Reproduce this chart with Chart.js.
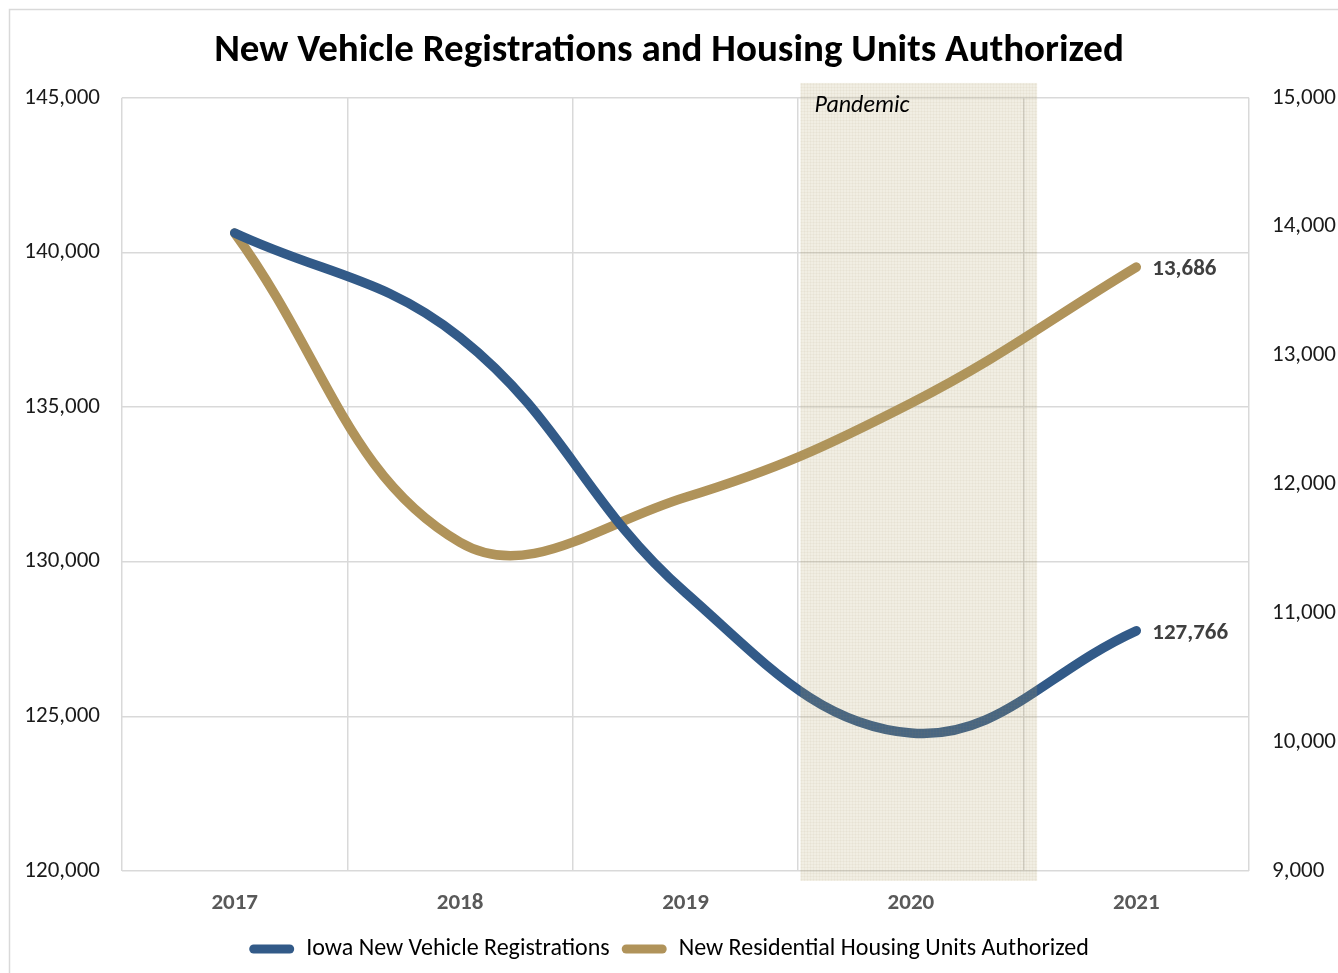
<!DOCTYPE html>
<html>
<head>
<meta charset="utf-8">
<script src="https://cdn.jsdelivr.net/npm/chart.js@4.4.1/dist/chart.umd.min.js"></script>
<style>
  body { margin: 0; background: #fff; }
  #wrap { width: 1338px; height: 973px; position: relative; }
</style>
</head>
<body>
<div id="wrap"><canvas id="lineChartID"></canvas></div>
<script>
'use strict';

const years = ['2017', '2018', '2019', '2020', '2021'];
const vehicleRegistrations = [140630, 137250, 129000, 124460, 127766];
const housingUnits = [13950, 11550, 11900, 12630, 13686];
const vehicleTicks = [120000, 125000, 130000, 135000, 140000, 145000];
const housingTicks = [9000, 10000, 11000, 12000, 13000, 14000, 15000];

const blue = '#325a88';
const gold = '#b0935a';
const fontFamily = 'Carlito, Calibri, Lato, sans-serif';

// shaded pandemic period, drawn over the lines with a faint dotted texture
function bandPattern(ctx) {
  const c = document.createElement('canvas');
  c.width = 3;
  c.height = 3;
  const p = c.getContext('2d');
  p.fillStyle = 'rgba(175,160,100,0.18)';
  p.fillRect(0, 0, 3, 3);
  p.fillStyle = 'rgba(150,140,95,0.06)';
  p.fillRect(0, 0, 3, 1);
  p.fillRect(0, 0, 1, 3);
  return ctx.createPattern(c, 'repeat');
}

const pandemicBand = {
  id: 'pandemicBand',
  afterDatasetsDraw(chart, args, opts) {
    const {ctx, scales} = chart;
    const x1 = scales.x.getPixelForValue(opts.from);
    const x2 = scales.x.getPixelForValue(opts.to);
    const y1 = scales.y.getPixelForValue(opts.top);
    const y2 = scales.y.getPixelForValue(opts.bottom);
    ctx.save();
    ctx.fillStyle = bandPattern(ctx);
    ctx.fillRect(x1, y1, x2 - x1, y2 - y1);
    ctx.fillStyle = '#000';
    ctx.font = 'italic 24px ' + fontFamily;
    ctx.textBaseline = 'middle';
    ctx.fillText(opts.text, x1 + 14, scales.y.getPixelForValue(144750));
    ctx.restore();
  }
};

// value labels next to the last point of each line
const endLabels = {
  id: 'endLabels',
  afterDatasetsDraw(chart) {
    const {ctx} = chart;
    ctx.save();
    ctx.font = 'bold 23px ' + fontFamily;
    ctx.fillStyle = '#404040';
    ctx.textBaseline = 'middle';
    chart.data.datasets.forEach((ds, i) => {
      const pts = chart.getDatasetMeta(i).data;
      const last = pts[pts.length - 1];
      const val = ds.data[ds.data.length - 1];
      ctx.fillText(val.toLocaleString('en-US'), last.x + 16, last.y + 2.5);
    });
    ctx.restore();
  }
};

const frame = {
  id: 'frame',
  beforeDraw(chart) {
    const {ctx} = chart;
    ctx.save();
    ctx.fillStyle = '#fff';
    ctx.fillRect(0, 0, chart.width, chart.height);
    ctx.strokeStyle = '#d9d9d9';
    ctx.lineWidth = 1.5;
    ctx.strokeRect(9.5, 9.5, chart.width + 20, chart.height + 20);
    ctx.restore();
  }
};

const data = {
  labels: years,
  datasets: [{
    label: 'Iowa New Vehicle Registrations',
    data: vehicleRegistrations,
    borderColor: blue,
    backgroundColor: blue,
    borderWidth: 9.5,
    borderCapStyle: 'round',
    pointRadius: 0,
    tension: 0.4,
    yAxisID: 'y'
  }, {
    label: 'New Residential Housing Units Authorized',
    data: housingUnits,
    borderColor: gold,
    backgroundColor: gold,
    borderWidth: 9.5,
    borderCapStyle: 'round',
    pointRadius: 0,
    tension: 0.4,
    yAxisID: 'y1'
  }]
};

const config = {
  type: 'line',
  data: data,
  plugins: [frame, pandemicBand, endLabels],
  options: {
    responsive: true,
    maintainAspectRatio: false,
    animation: false,
    layout: { padding: { left: 0, right: 0, top: 0, bottom: 2 } },
    plugins: {
      title: {
        display: true,
        text: 'New Vehicle Registrations and Housing Units Authorized',
        color: '#000',
        font: { family: fontFamily, size: 39, weight: 'bold' },
        padding: { top: 28, bottom: 23 }
      },
      legend: {
        position: 'bottom',
        labels: {
          color: '#000',
          font: { family: fontFamily, size: 24 },
          boxWidth: 45,
          boxHeight: 9,
          useBorderRadius: true,
          borderRadius: 4.5,
          padding: 12,
          generateLabels(chart) {
            const items = Chart.defaults.plugins.legend.labels.generateLabels(chart);
            items.forEach(it => { it.lineWidth = 0; });
            return items;
          }
        }
      },
      tooltip: { enabled: false },
      pandemicBand: { from: 2.51, to: 3.56, top: 145480, bottom: 119680, text: 'Pandemic' }
    },
    scales: {
      x: {
        offset: true,
        grid: { offset: true, color: '#d9d9d9', lineWidth: 1.5, drawTicks: false },
        border: { display: false },
        ticks: {
          color: '#595959',
          font: { family: fontFamily, size: 23, weight: 'bold' },
          padding: 18
        },
        afterFit(scale) { scale.height = 54; }
      },
      y: {
        position: 'left',
        min: vehicleTicks[0],
        max: vehicleTicks[vehicleTicks.length - 1],
        afterBuildTicks(scale) { scale.ticks = vehicleTicks.map(v => ({ value: v })); },
        grid: { color: '#d9d9d9', lineWidth: 1.5, drawTicks: false },
        border: { display: false },
        ticks: {
          color: '#1a1a1a',
          font: { family: fontFamily, size: 23 },
          padding: 22,
          callback: v => v.toLocaleString('en-US')
        },
        afterFit(scale) { scale.width = 122; }
      },
      y1: {
        position: 'right',
        min: housingTicks[0],
        max: housingTicks[housingTicks.length - 1],
        afterBuildTicks(scale) { scale.ticks = housingTicks.map(v => ({ value: v })); },
        grid: { display: false, drawTicks: false },
        border: { display: false },
        ticks: {
          color: '#1a1a1a',
          font: { family: fontFamily, size: 23 },
          padding: 23,
          callback: v => v.toLocaleString('en-US')
        },
        afterFit(scale) { scale.width = 89; }
      }
    }
  }
};

const lineChart = new Chart(document.getElementById('lineChartID'), config);
</script>
</body>
</html>
